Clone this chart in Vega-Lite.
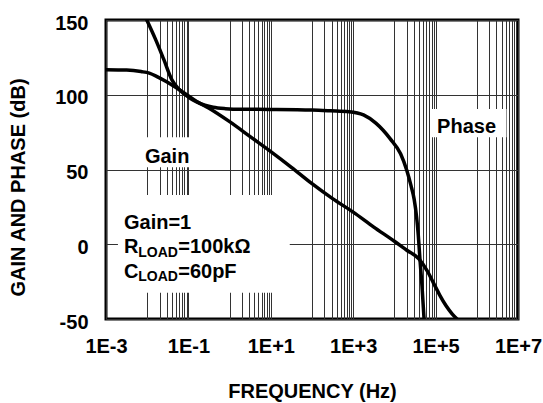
{
  "$schema": "https://vega.github.io/schema/vega-lite/v6.json",
  "width": 412,
  "height": 299,
  "autosize": {"type": "none"},
  "padding": {"left": 106, "top": 20, "right": 25, "bottom": 84},
  "background": "white",
  "config": {
    "view": {"stroke": "black", "strokeWidth": 3},
    "text": {"font": "Liberation Sans", "color": "black"}
  },
  "datasets": {
    "curves": [
      {"s": "gain", "f": 0.001, "v": 116.8},
      {"s": "gain", "f": 0.003162, "v": 116.5},
      {"s": "gain", "f": 0.007079, "v": 115.5},
      {"s": "gain", "f": 0.01122, "v": 114.5},
      {"s": "gain", "f": 0.01778, "v": 112},
      {"s": "gain", "f": 0.02818, "v": 109},
      {"s": "gain", "f": 0.03981, "v": 106.5},
      {"s": "gain", "f": 0.0631, "v": 103},
      {"s": "gain", "f": 0.08913, "v": 100.2},
      {"s": "gain", "f": 0.1585, "v": 95.5},
      {"s": "gain", "f": 0.3162, "v": 91},
      {"s": "gain", "f": 1, "v": 82},
      {"s": "gain", "f": 3.162, "v": 72},
      {"s": "gain", "f": 10, "v": 62},
      {"s": "gain", "f": 31.62, "v": 51.5},
      {"s": "gain", "f": 100, "v": 40.5},
      {"s": "gain", "f": 316.2, "v": 30.5},
      {"s": "gain", "f": 1000, "v": 21.5},
      {"s": "gain", "f": 3162, "v": 11.5},
      {"s": "gain", "f": 10000, "v": 2},
      {"s": "gain", "f": 19950, "v": -4},
      {"s": "gain", "f": 39810, "v": -10},
      {"s": "gain", "f": 63100, "v": -18},
      {"s": "gain", "f": 89130, "v": -26},
      {"s": "gain", "f": 125900, "v": -34},
      {"s": "gain", "f": 177800, "v": -41},
      {"s": "gain", "f": 251200, "v": -46.5},
      {"s": "gain", "f": 331100, "v": -50},
      {"s": "phase", "f": 0.009772, "v": 150},
      {"s": "phase", "f": 0.01585, "v": 137.2},
      {"s": "phase", "f": 0.02512, "v": 123.8},
      {"s": "phase", "f": 0.03981, "v": 110},
      {"s": "phase", "f": 0.05623, "v": 104.3},
      {"s": "phase", "f": 0.07943, "v": 100.5},
      {"s": "phase", "f": 0.1122, "v": 97.5},
      {"s": "phase", "f": 0.1585, "v": 95.2},
      {"s": "phase", "f": 0.2512, "v": 93},
      {"s": "phase", "f": 0.3981, "v": 91.6},
      {"s": "phase", "f": 0.7943, "v": 90.7},
      {"s": "phase", "f": 1.995, "v": 90.3},
      {"s": "phase", "f": 10, "v": 90.2},
      {"s": "phase", "f": 100, "v": 89.8},
      {"s": "phase", "f": 281.8, "v": 89.3},
      {"s": "phase", "f": 794.3, "v": 88.7},
      {"s": "phase", "f": 1778, "v": 86.5},
      {"s": "phase", "f": 3548, "v": 81},
      {"s": "phase", "f": 7943, "v": 70.5},
      {"s": "phase", "f": 14130, "v": 60.5},
      {"s": "phase", "f": 19950, "v": 49.5},
      {"s": "phase", "f": 25120, "v": 39.5},
      {"s": "phase", "f": 30200, "v": 30},
      {"s": "phase", "f": 34670, "v": 18},
      {"s": "phase", "f": 38020, "v": 6},
      {"s": "phase", "f": 41690, "v": -10},
      {"s": "phase", "f": 46770, "v": -28},
      {"s": "phase", "f": 52480, "v": -50}
    ],
    "boxes": [
      {"f": 0.00708, "f2": 0.1445, "v": 51.5, "v2": 71.5},
      {"f": 74130, "f2": 5248000, "v": 71.5, "v2": 90.5},
      {"f": 0.00195, "f2": 28.84, "v": -32.4, "v2": 32.9}
    ],
    "labels": [
      {"f": 0.00881, "v": 54.1, "t": "Gain"},
      {"f": 108700, "v": 74.4, "t": "Phase"},
      {"f": 0.002729, "v": 10.2, "t": "Gain=1"},
      {"f": 0.002729, "v": -6.05, "t": "R"},
      {"f": 0.05662, "v": -6.05, "t": "=100kΩ"},
      {"f": 0.002729, "v": -22.8, "t": "C"},
      {"f": 0.05662, "v": -22.8, "t": "=60pF"}
    ],
    "subs": [
      {"f": 0.006067, "v": -8.7, "t": "LOAD"},
      {"f": 0.006067, "v": -24.6, "t": "LOAD"}
    ]
  },
  "encoding": {
    "x": {
      "field": "f", "type": "quantitative",
      "scale": {"type": "log", "domain": [0.001, 10000000], "nice": false},
      "axis": {
        "orient": "bottom",
        "values": [0.001, 0.01, 0.02, 0.03, 0.04, 0.05, 0.06, 0.07, 0.08, 0.09, 0.1, 1, 2, 3, 4, 5, 6, 7, 8, 9, 10, 100, 200, 300, 400, 500, 600, 700, 800, 900, 1000, 10000, 20000, 30000, 40000, 50000, 60000, 70000, 80000, 90000, 100000, 1000000, 2000000, 3000000, 4000000, 5000000, 6000000, 7000000, 8000000, 9000000, 10000000],
        "grid": true, "gridColor": "#333", "gridWidth": 1, "gridOpacity": 1,
        "ticks": false, "domain": false,
        "labelExpr": "abs(log(datum.value)/LN10 - round(log(datum.value)/LN10)) < 0.001 && round(log(datum.value)/LN10) % 2 != 0 ? '1E' + (datum.value < 1 ? '-' : '+') + abs(round(log(datum.value)/LN10)) : ''",
        "labelFont": "Liberation Sans", "labelFontSize": 20, "labelFontWeight": "bold", "labelColor": "black",
        "labelPadding": 17, "labelOverlap": false, "labelFlush": false, "labelBound": false,
        "title": "FREQUENCY (Hz)", "titleFont": "Liberation Sans", "titleFontSize": 20, "titleFontWeight": "bold", "titleColor": "black", "titlePadding": 25
      }
    },
    "y": {
      "field": "v", "type": "quantitative",
      "scale": {"domain": [-50, 150], "nice": false, "zero": false},
      "axis": {
        "values": [-50, 0, 50, 100, 150],
        "grid": true, "gridColor": "#333", "gridWidth": 1, "gridOpacity": 1,
        "ticks": false, "domain": false,
        "labelExpr": "'' + datum.value",
        "labelFont": "Liberation Sans", "labelFontSize": 20, "labelFontWeight": "bold", "labelColor": "black",
        "labelPadding": 18, "labelOffset": 3, "labelOverlap": false, "labelFlush": false, "labelBound": false,
        "title": "GAIN AND PHASE (dB)", "titleFont": "Liberation Sans", "titleFontSize": 20, "titleFontWeight": "bold", "titleColor": "black",
        "titleAngle": 270, "titleX": -88, "titleY": 167, "titleAlign": "center", "titleBaseline": "middle"
      }
    }
  },
  "layer": [
    {
      "data": {"name": "boxes"},
      "mark": {"type": "rect", "fill": "white"},
      "encoding": {
        "x2": {"field": "f2"},
        "y2": {"field": "v2"}
      }
    },
    {
      "data": {"name": "curves"},
      "mark": {"type": "line", "stroke": "black", "strokeWidth": 3.5, "clip": true, "interpolate": "monotone", "strokeJoin": "round", "strokeCap": "round"},
      "encoding": {
        "detail": {"field": "s"}
      }
    },
    {
      "data": {"name": "labels"},
      "mark": {"type": "text", "fontSize": 20, "fontWeight": "bold", "align": "left", "baseline": "alphabetic", "font": "Liberation Sans", "color": "black"},
      "encoding": {
        "text": {"field": "t"}
      }
    },
    {
      "data": {"name": "subs"},
      "mark": {"type": "text", "fontSize": 14, "fontWeight": "bold", "align": "left", "baseline": "alphabetic", "font": "Liberation Sans", "color": "black"},
      "encoding": {
        "text": {"field": "t"}
      }
    }
  ]
}
